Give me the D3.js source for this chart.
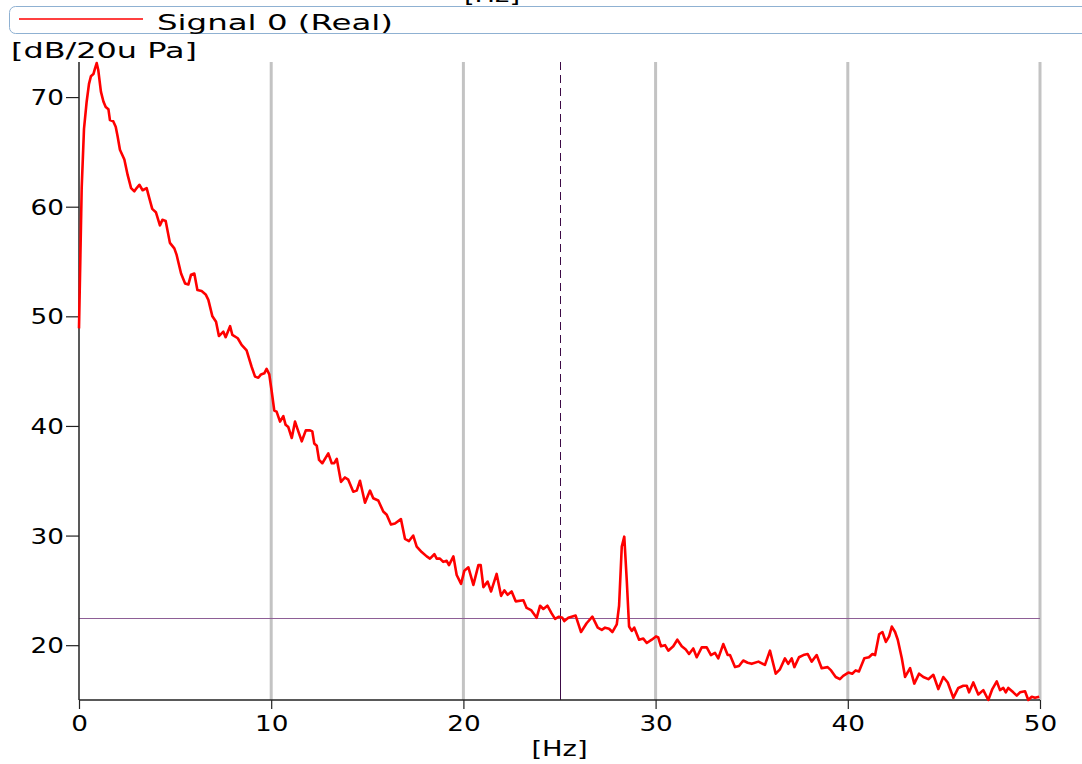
<!DOCTYPE html>
<html>
<head>
<meta charset="utf-8">
<script src="https://cdn.jsdelivr.net/npm/d3@7"></script>
<style>
  body { margin: 0; background: #fff; }
  svg { display: block; }
  text { font-family: "DejaVu Sans", sans-serif; fill: #000; }
</style>
</head>
<body>
<svg id="chart" width="1082" height="764"></svg>
<script>
// Spectrum of signal 0: frequency (Hz) and level (dB re 20 uPa)
const freqHz = [
  0.00, 0.14, 0.26, 0.40, 0.52, 0.62, 0.75, 0.83, 0.92, 1.00,
  1.14, 1.27, 1.39, 1.53, 1.61, 1.78, 1.91, 2.01, 2.13, 2.36,
  2.53, 2.71, 2.88, 3.00, 3.14, 3.31, 3.52, 3.64, 3.81, 4.00,
  4.21, 4.34, 4.51, 4.73, 4.96, 5.08, 5.31, 5.52, 5.69, 5.83,
  6.00, 6.16, 6.38, 6.59, 6.73, 6.94, 7.13, 7.28, 7.51, 7.63,
  7.86, 7.98, 8.26, 8.46, 8.72, 8.98, 9.16, 9.33, 9.47, 9.64,
  9.76, 9.90, 10.03, 10.16, 10.28, 10.46, 10.63, 10.75, 10.89, 11.07,
  11.24, 11.41, 11.59, 11.80, 12.02, 12.14, 12.24, 12.37, 12.49, 12.66,
  12.97, 13.15, 13.28, 13.41, 13.63, 13.84, 14.01, 14.27, 14.45, 14.62,
  14.88, 15.14, 15.31, 15.57, 15.83, 16.01, 16.23, 16.44, 16.75, 16.96,
  17.17, 17.39, 17.57, 17.83, 18.09, 18.26, 18.49, 18.61, 18.78, 18.95,
  19.13, 19.25, 19.48, 19.65, 19.88, 20.05, 20.26, 20.52, 20.78, 20.90,
  21.04, 21.26, 21.44, 21.73, 21.96, 22.13, 22.30, 22.51, 22.72, 23.12,
  23.29, 23.52, 23.81, 23.99, 24.16, 24.37, 24.59, 24.77, 24.97, 25.15,
  25.25, 25.46, 25.84, 26.12, 26.41, 26.71, 26.99, 27.20, 27.37, 27.58,
  27.75, 27.98, 28.10, 28.24, 28.37, 28.50, 28.62, 28.76, 28.89, 29.14,
  29.36, 29.54, 29.80, 30.02, 30.14, 30.28, 30.49, 30.66, 30.92, 31.13,
  31.36, 31.57, 31.74, 31.96, 32.14, 32.40, 32.66, 32.88, 33.09, 33.26,
  33.52, 33.75, 33.87, 34.13, 34.34, 34.56, 34.79, 35.00, 35.35, 35.69,
  35.95, 36.25, 36.47, 36.73, 36.90, 37.08, 37.22, 37.46, 37.69, 37.91,
  38.12, 38.38, 38.64, 38.95, 39.13, 39.37, 39.59, 39.76, 40.03, 40.23,
  40.41, 40.58, 40.86, 41.10, 41.28, 41.42, 41.63, 41.80, 41.98, 42.15,
  42.29, 42.46, 42.60, 42.81, 42.98, 43.24, 43.46, 43.71, 43.93, 44.19,
  44.45, 44.71, 44.97, 45.20, 45.49, 45.75, 46.01, 46.19, 46.31, 46.53,
  46.79, 47.05, 47.31, 47.52, 47.75, 47.92, 48.09, 48.22, 48.35, 48.61,
  48.79, 48.96, 49.22, 49.39, 49.57, 49.74, 49.96
];
const levelDb = [
  48.9, 61.7, 67.1, 69.6, 71.2, 71.9, 72.1, 72.6, 73.1, 72.5,
  70.5, 69.6, 69.1, 68.9, 67.9, 67.8, 67.3, 66.4, 65.2, 64.3,
  62.9, 61.7, 61.4, 61.7, 62.0, 61.5, 61.7, 60.9, 59.8, 59.5,
  58.3, 58.8, 58.7, 56.7, 56.2, 55.6, 53.9, 53.0, 52.9, 53.8,
  53.9, 52.4, 52.3, 52.0, 51.5, 50.0, 49.5, 48.2, 48.6, 48.1,
  49.1, 48.3, 48.0, 47.4, 46.9, 45.4, 44.5, 44.4, 44.7, 44.8,
  45.2, 44.7, 43.1, 41.4, 41.3, 40.4, 40.9, 40.1, 39.9, 38.9,
  40.4, 39.5, 38.6, 39.6, 39.6, 39.5, 38.4, 38.2, 36.9, 36.6,
  37.5, 36.6, 36.6, 37.0, 34.9, 35.3, 35.1, 34.0, 34.1, 35.0,
  33.0, 34.1, 33.4, 33.2, 32.2, 31.9, 31.0, 31.1, 31.5, 29.7,
  29.5, 30.0, 29.0, 28.5, 28.1, 27.9, 28.3, 27.9, 27.9, 27.6,
  27.7, 27.3, 28.1, 26.4, 25.6, 26.8, 27.1, 25.5, 27.3, 27.3,
  25.3, 25.8, 24.9, 26.5, 24.5, 25.0, 24.6, 24.9, 24.0, 24.1,
  23.4, 23.2, 22.5, 23.6, 23.3, 23.6, 22.9, 22.4, 22.6, 22.5,
  22.2, 22.5, 22.7, 21.2, 22.0, 22.6, 21.6, 21.4, 21.6, 21.5,
  21.2, 21.9, 23.6, 29.0, 29.9, 25.9, 21.7, 21.3, 21.6, 20.5,
  20.6, 20.2, 20.5, 20.8, 20.7, 19.9, 20.0, 19.5, 19.9, 20.5,
  19.9, 19.6, 19.2, 19.7, 18.9, 19.8, 19.8, 19.1, 19.3, 18.8,
  20.1, 19.1, 19.1, 18.0, 18.1, 18.6, 18.4, 18.3, 18.5, 18.2,
  19.5, 17.4, 17.8, 18.8, 18.3, 18.8, 18.0, 18.9, 19.1, 19.2,
  18.5, 19.1, 17.9, 18.0, 17.7, 17.1, 16.9, 17.2, 17.5, 17.4,
  17.7, 17.6, 18.8, 18.9, 19.2, 19.1, 21.0, 21.2, 20.3, 20.8,
  21.7, 21.2, 20.5, 18.8, 17.1, 17.9, 16.5, 17.4, 17.1, 16.9,
  17.3, 16.0, 17.1, 16.6, 15.2, 16.1, 16.3, 16.3, 15.7, 16.6,
  15.5, 15.9, 15.0, 16.0, 16.7, 15.9, 16.1, 15.7, 16.1, 15.7,
  15.4, 15.7, 15.8, 15.0, 15.3, 15.2, 15.3
];
const xTicks = [0, 10, 20, 30, 40, 50];
const yTicks = [20, 30, 40, 50, 60, 70];
const gridHz = [10, 20, 30, 40, 50];
const xDomain = [0, 50];
const yDomain = [15, 73.2];
const cursorHz = 25;
const thresholdDb = 22.46;
const seriesName = "Signal 0 (Real)";
const xTitle = "[Hz]";
const yTitle = "[dB/20u Pa]";

const svg = d3.select("#chart");
const plotLeft = 79, plotRight = 1040, plotTop = 62, plotBottom = 700;

const x = d3.scaleLinear().domain(xDomain).range([plotLeft, plotRight]);
const y = d3.scaleLinear().domain(yDomain).range([plotBottom, plotTop]);

// widen glyphs horizontally to the wide lettering of the plot
function widen(sel, k) {
  sel.each(function () {
    const w = this.getComputedTextLength();
    d3.select(this).attr("textLength", w * k).attr("lengthAdjust", "spacingAndGlyphs");
  });
}

// half-hidden title above the legend strip
svg.append("text").attr("x", 492).attr("y", 2).attr("text-anchor", "middle")
  .style("font-size", "21px").text(xTitle).call(widen, 1.3);

// legend strip
const legend = svg.append("g");
legend.append("rect").attr("x", 9.5).attr("y", 6.5).attr("width", 1100).attr("height", 27)
  .attr("rx", 6).attr("fill", "#fff").attr("stroke", "#8fb1d2").attr("stroke-width", 1);
legend.append("line").attr("x1", 19).attr("x2", 143).attr("y1", 19).attr("y2", 19)
  .attr("stroke", "#ff0000").attr("stroke-width", 1.5);
legend.append("text").attr("x", 157).attr("y", 30).style("font-size", "21px")
  .text(seriesName).attr("textLength", 236).attr("lengthAdjust", "spacingAndGlyphs");

// y title
svg.append("text").attr("x", 11).attr("y", 58).style("font-size", "21px")
  .text(yTitle).attr("textLength", 186).attr("lengthAdjust", "spacingAndGlyphs");

// vertical grid
svg.append("g").selectAll("line").data(gridHz).join("line")
  .attr("x1", d => x(d)).attr("x2", d => x(d)).attr("y1", plotTop).attr("y2", plotBottom)
  .attr("stroke", "#c3c3c3").attr("stroke-width", 3);

// threshold level line
const ty = Math.round(y(thresholdDb)) + 0.5;
svg.append("line").attr("x1", x(xDomain[0])).attr("x2", x(xDomain[1]))
  .attr("y1", ty).attr("y2", ty)
  .attr("stroke", "#8e5e96").attr("stroke-width", 1);

// cursor: dashed above the threshold, solid below
const cx = Math.round(x(cursorHz)) + 0.5;
svg.append("line").attr("x1", cx).attr("x2", cx).attr("y1", plotTop).attr("y2", ty)
  .attr("stroke", "#3c0a46").attr("stroke-width", 1).attr("stroke-dasharray", "8,5");
svg.append("line").attr("x1", cx).attr("x2", cx).attr("y1", ty).attr("y2", plotBottom)
  .attr("stroke", "#3c0a46").attr("stroke-width", 1);

// axes
const xAxis = svg.append("g").attr("transform", `translate(0,${plotBottom})`)
  .call(d3.axisBottom(x).tickValues(xTicks).tickSize(9).tickPadding(7).tickFormat(d3.format("d")));
const yAxis = svg.append("g").attr("transform", `translate(${plotLeft},0)`)
  .call(d3.axisLeft(y).tickValues(yTicks).tickSize(13).tickPadding(2).tickFormat(d3.format("d")));
[xAxis, yAxis].forEach(g => {
  g.attr("font-family", null).attr("font-size", null);
  g.select(".domain").attr("stroke", "#222").attr("stroke-width", 1.5);
  g.selectAll(".tick line").attr("stroke", "#222").attr("stroke-width", 1.2);
  g.selectAll(".tick text").style("font-size", "21px").attr("fill", "#000");
});
xAxis.selectAll(".tick text").attr("dy", null).attr("y", 31).call(widen, 1.25);
yAxis.selectAll(".tick text").attr("dy", "0.36em").call(widen, 1.25);
yAxis.select(".domain").attr("d", `M0,${plotBottom}V${plotTop}`);
xAxis.select(".domain").attr("d", `M${plotLeft},0H${plotRight}`);

// x title
svg.append("text").attr("x", (plotLeft + plotRight) / 2).attr("y", 756).attr("text-anchor", "middle")
  .style("font-size", "21px").text(xTitle).call(widen, 1.3);

// spectrum curve
const pts = freqHz.map((f, i) => [f, levelDb[i]]);
svg.append("path").datum(pts)
  .attr("fill", "none").attr("stroke", "#ff0000").attr("stroke-width", 2.6)
  .attr("stroke-linejoin", "round")
  .attr("d", d3.line().x(d => x(d[0])).y(d => y(d[1])));
</script>
</body>
</html>
